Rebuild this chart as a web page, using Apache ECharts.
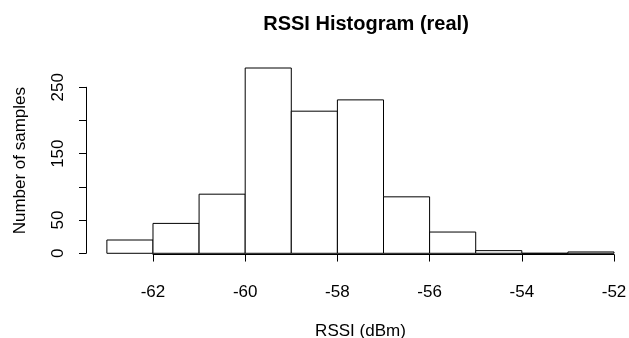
<!DOCTYPE html>
<html>
<head>
<meta charset="utf-8">
<script src="https://cdn.jsdelivr.net/npm/echarts@6/dist/echarts.min.js"></script>
<style>
  html, body { margin: 0; padding: 0; background: #fff; }
  #chart { width: 629px; height: 338px; }
</style>
</head>
<body>
<div id="chart"></div>
<script>
// histogram data (bin edges in dBm, counts per bin)
const binEdges = [-63, -62, -61, -60, -59, -58, -57, -56, -55, -54, -53, -52]
const counts = [20, 45, 89, 279, 214, 231, 85, 32, 4, 0, 2]
const xTicks = [-62, -60, -58, -56, -54, -52]
const yTicks = [0, 50, 100, 150, 200, 250]
const yLabels = [0, 50, 150, 250]

const font = 'Liberation Sans, Arial, Helvetica, sans-serif'

// plot region, R style (4% padding around the data range)
const xMin = -63.44, xMax = -51.56
const yMin = -11.16, yMax = 290.16
const plotLeft = 86.6, plotRight = -5.3, plotTop = 60.6, plotBottom = 77.3
const pxX = (629 - plotLeft - plotRight) / (xMax - xMin)
const pxY = (338 - plotTop - plotBottom) / (yMax - yMin)
const zeroY = 338 - plotBottom - (0 - yMin) * pxY

const bins = counts.map((c, i) => [binEdges[i], binEdges[i + 1], c])

const chart = echarts.init(document.getElementById('chart'))
chart.setOption({
  animation: false,
  title: {
    text: 'RSSI Histogram (real)',
    left: 361, top: 9, textAlign: 'center',
    textStyle: { fontFamily: font, fontSize: 20, fontWeight: 'bold', color: '#000' }
  },
  grid: [
    // bars
    { left: plotLeft, right: plotRight, top: plotTop, bottom: plotBottom, outerBoundsMode: 'none' },
    // x axis (only spans the ticks, like R)
    {
      left: plotLeft + (xTicks[0] - xMin) * pxX,
      right: 629 - (plotLeft + (xTicks[xTicks.length - 1] - xMin) * pxX),
      top: plotTop, bottom: 76, outerBoundsMode: 'none'
    },
    // y axis
    {
      left: 86, right: plotRight,
      top: zeroY - yTicks[yTicks.length - 1] * pxY,
      bottom: 338 - zeroY, outerBoundsMode: 'none'
    }
  ],
  xAxis: [
    {
      gridIndex: 0, type: 'value', min: xMin, max: xMax,
      name: 'RSSI (dBm)', nameLocation: 'middle', nameGap: 62,
      nameTextStyle: { fontFamily: font, fontSize: 17, color: '#000' },
      axisLine: { show: false }, axisTick: { show: false },
      axisLabel: { show: false }, splitLine: { show: false }
    },
    {
      gridIndex: 1, type: 'value', min: xTicks[0], max: xTicks[xTicks.length - 1], interval: 2,
      axisLine: { lineStyle: { color: '#000', width: 1 } },
      axisTick: { length: 7, lineStyle: { color: '#000' } },
      axisLabel: { fontFamily: font, fontSize: 17, color: '#000', margin: 22 },
      splitLine: { show: false }
    },
    {
      gridIndex: 2, type: 'value', min: xMin, max: xMax, show: false
    }
  ],
  yAxis: [
    {
      gridIndex: 0, type: 'value', min: yMin, max: yMax,
      name: 'Number of samples', nameLocation: 'middle', nameRotate: 90, nameGap: 58,
      nameTextStyle: { fontFamily: font, fontSize: 17, color: '#000' },
      axisLine: { show: false }, axisTick: { show: false },
      axisLabel: { show: false }, splitLine: { show: false }
    },
    {
      gridIndex: 1, type: 'value', min: yMin, max: yMax, show: false
    },
    {
      gridIndex: 2, type: 'value', min: yTicks[0], max: yTicks[yTicks.length - 1], interval: 50,
      axisLine: { lineStyle: { color: '#000', width: 1 } },
      axisTick: { length: 7, lineStyle: { color: '#000' } },
      axisLabel: {
        fontFamily: font, fontSize: 17, color: '#000', rotate: 90, margin: 19,
        formatter: v => yLabels.includes(v) ? String(v) : ''
      },
      splitLine: { show: false }
    }
  ],
  series: [{
    type: 'custom',
    xAxisIndex: 0, yAxisIndex: 0,
    clip: false,
    data: bins,
    renderItem: (params, api) => {
      const p0 = api.coord([api.value(0), api.value(2)])
      const p1 = api.coord([api.value(1), 0])
      return {
        type: 'rect',
        shape: { x: p0[0], y: p0[1], width: p1[0] - p0[0], height: p1[1] - p0[1] },
        style: { fill: '#fff', stroke: '#000', lineWidth: 1 }
      }
    }
  }]
})
</script>
</body>
</html>
